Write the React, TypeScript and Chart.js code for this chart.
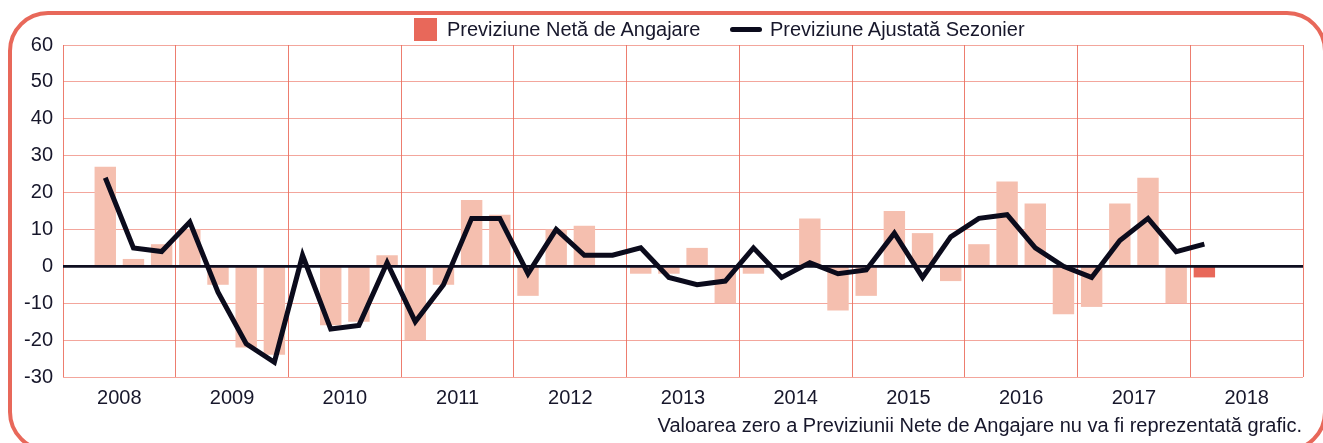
import React, { useEffect, useRef } from "react";
import { Chart, registerables } from "chart.js";

Chart.register(...registerables);

const years = ["2008", "2009", "2010", "2011", "2012", "2013", "2014", "2015", "2016", "2017", "2018"];
const quarters = ["T1", "T2", "T3", "T4"];
const quarterLabels = years.flatMap((y) => quarters.map((q) => `${q} ${y}`));

// Previziune Netă de Angajare (2008 T1 ... 2018 T4), null = no survey
const netOutlook = [
  null, 27, 2, 6,
  10, -5, -22, -24,
  0, -16, -15, 3,
  -20, -5, 18, 14,
  -8, 10, 11, 0,
  -2, -2, 5, -10,
  -2, 0, 13, -12,
  -8, 15, 9, -4,
  6, 23, 17, -13,
  -11, 17, 24, -10,
  -3, null, null, null,
];

// Previziune Ajustată Sezonier
const seasonallyAdjusted = [
  null, 24, 5, 4,
  12, -7, -21, -26,
  3, -17, -16, 1,
  -15, -5, 13, 13,
  -2, 10, 3, 3,
  5, -3, -5, -4,
  5, -3, 1, -2,
  -1, 9, -3, 8,
  13, 14, 5, 0,
  -3, 7, 13, 4,
  6, null, null, null,
];

const yTicks = [-30, -20, -10, 0, 10, 20, 30, 40, 50, 60];
const latestIndex = 40;

const TEXT = "#17172b";
const CORAL = "#E8685A";
const BAR_LIGHT = "#F5BFAF";
const FONT = "'Liberation Sans', Arial, Helvetica, sans-serif";

const zeroLinePlugin = {
  id: "zeroLine",
  afterDatasetDraw(chart: any, args: any) {
    if (args.meta.type !== "bar") return;
    const { ctx, chartArea, scales } = chart;
    const y = scales.y.getPixelForValue(0);
    ctx.save();
    ctx.strokeStyle = "#0e0e20";
    ctx.lineWidth = 2.6;
    ctx.beginPath();
    ctx.moveTo(chartArea.left, y);
    ctx.lineTo(chartArea.right, y);
    ctx.stroke();
    ctx.restore();
  },
};

export default function App() {
  const canvasRef = useRef<HTMLCanvasElement | null>(null);

  useEffect(() => {
    if (!canvasRef.current) return;
    const chart = new Chart(canvasRef.current, {
      type: "bar",
      data: {
        labels: quarterLabels,
        datasets: [
          {
            type: "bar",
            label: "Previziune Netă de Angajare",
            data: netOutlook as any,
            xAxisID: "q",
            order: 2,
            backgroundColor: (c: any) => (c.dataIndex === latestIndex ? CORAL : BAR_LIGHT),
            borderWidth: 0,
            barPercentage: 0.76,
            categoryPercentage: 1,
          },
          {
            type: "line",
            label: "Previziune Ajustată Sezonier",
            data: seasonallyAdjusted as any,
            xAxisID: "q",
            order: 1,
            borderColor: "#0b0b1c",
            borderWidth: 5,
            pointRadius: 0,
            tension: 0,
            spanGaps: false,
            borderJoinStyle: "miter",
          },
        ],
      },
      options: {
        responsive: false,
        animation: false,
        devicePixelRatio: 1,
        layout: { padding: { left: 8, top: 45, right: 20, bottom: 26 } },
        plugins: {
          legend: { display: false },
          tooltip: { enabled: false },
        },
        scales: {
          q: {
            type: "category",
            labels: quarterLabels,
            display: false,
            offset: true,
          },
          x: {
            type: "category",
            labels: years,
            position: "bottom",
            offset: true,
            grid: {
              offset: true,
              drawTicks: false,
              color: "rgba(234,102,86,0.85)",
              lineWidth: 1,
            },
            border: { display: false },
            ticks: {
              color: TEXT,
              font: { family: FONT, size: 20 },
              padding: 9,
              maxRotation: 0,
              autoSkip: false,
            },
            afterFit: (s: any) => {
              s.height = 40;
            },
          },
          y: {
            min: -30,
            max: 60,
            afterBuildTicks: (s: any) => {
              s.ticks = yTicks.map((v) => ({ value: v }));
            },
            grid: {
              drawTicks: false,
              color: (c: any) => (c.tick && c.tick.value === 0 ? "rgba(0,0,0,0)" : "rgba(236,112,96,0.62)"),
              lineWidth: 1,
            },
            border: { display: false },
            ticks: {
              color: TEXT,
              font: { family: FONT, size: 20 },
              padding: 10,
            },
            afterFit: (s: any) => {
              s.width = 55;
            },
          },
        },
      },
      plugins: [zeroLinePlugin],
    } as any);
    return () => chart.destroy();
  }, []);

  return (
    <div style={{ position: "absolute", left: 0, top: 0, width: 1323, height: 443, overflow: "hidden", background: "#fff", fontFamily: FONT }}>
      <div
        style={{
          position: "absolute",
          left: 8,
          top: 11,
          width: 1319,
          height: 441,
          border: `4px solid ${CORAL}`,
          borderRadius: 40,
          boxSizing: "border-box",
        }}
      />
      <canvas ref={canvasRef} width={1323} height={443} style={{ position: "absolute", left: 0, top: 0, width: 1323, height: 443 }} />
      <div style={{ position: "absolute", left: 414, top: 18, width: 23, height: 23, background: CORAL }} />
      <div style={{ position: "absolute", left: 447, top: 18, fontSize: 20, lineHeight: "23px", color: TEXT, whiteSpace: "nowrap" }}>
        Previziune Netă de Angajare
      </div>
      <div style={{ position: "absolute", left: 730, top: 27, width: 32, height: 5, borderRadius: 3, background: "#0b0b1c" }} />
      <div style={{ position: "absolute", left: 770, top: 18, fontSize: 20, lineHeight: "23px", color: TEXT, whiteSpace: "nowrap" }}>
        Previziune Ajustată Sezonier
      </div>
      <div style={{ position: "absolute", right: 21, top: 414, fontSize: 20, lineHeight: "23px", color: TEXT, whiteSpace: "nowrap" }}>
        Valoarea zero a Previziunii Nete de Angajare nu va fi reprezentată grafic.
      </div>
    </div>
  );
}
